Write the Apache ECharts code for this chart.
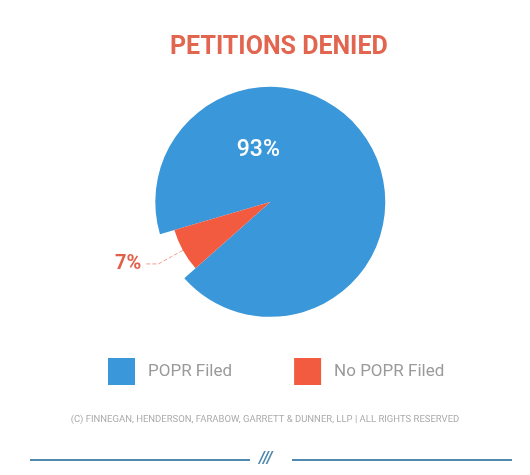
<!DOCTYPE html>
<html>
<head>
<meta charset="utf-8">
<script src="https://cdn.jsdelivr.net/npm/echarts@6/dist/echarts.min.js"></script>
<style>
  html, body { margin: 0; padding: 0; background: #fff; }
  #chart { width: 530px; height: 475px; }
</style>
</head>
<body>
<div id="chart"></div>
<script>
  // chart data
  const categories = ['POPR Filed', 'No POPR Filed'];
  const values = [93, 7];
  const colors = ['#3a97da', '#f35b40'];
  const footerText = '(C) FINNEGAN, HENDERSON, FARABOW, GARRETT & DUNNER, LLP | ALL RIGHTS RESERVED';

  const chart = echarts.init(document.getElementById('chart'));

  const font = 'Roboto, "DejaVu Sans", sans-serif';
  const startAngle = 196.4;
  const center = ['51%', '42.5%'];

  // outer pie: the big blue slice, red part left empty
  const outerData = [
    {
      name: categories[0], value: values[0],
      itemStyle: { color: colors[0] },
      label: {
        show: true, position: 'center',
        // spacer lines push the percentage up and to the left of the centre
        formatter: '{a|{d}%}{s|}\n{b|}',
        rich: {
          a: { color: '#fff', fontSize: 23, fontWeight: 500, fontFamily: font },
          s: { width: 24 },
          b: { height: 104 }
        }
      }
    },
    { name: 'gap', value: values[1], itemStyle: { color: 'transparent' }, label: { show: false } }
  ];

  // inner pie: only the red slice, drawn shorter
  const innerData = [
    { name: 'blank', value: values[0], itemStyle: { color: 'transparent' }, label: { show: false }, labelLine: { show: false } },
    {
      name: categories[1], value: values[1],
      itemStyle: { color: colors[1] },
      label: {
        show: true, position: 'outside',
        formatter: '{d}%',
        color: '#e0604a', fontSize: 20, fontWeight: 'bold', fontFamily: font
      },
      labelLine: {
        show: true, length: 28, length2: 12,
        lineStyle: { color: '#f0a090', type: 'dashed', width: 1 }
      }
    }
  ];

  const option = {
    backgroundColor: '#fff',
    animation: false,
    title: {
      text: 'PETITIONS DENIED',
      left: 165,
      top: 30,
      textStyle: { color: '#e2654f', fontSize: 25, fontWeight: 'bold', fontFamily: font }
    },
    legend: {
      data: categories.map((c, i) => ({ name: c, itemStyle: { color: colors[i] } })),
      left: 103,
      top: 353,
      icon: 'rect',
      itemWidth: 27,
      itemHeight: 27,
      itemGap: 62,
      selectedMode: false,
      textStyle: { color: '#9a9a9a', fontSize: 17, fontFamily: font, padding: [0, 0, 0, 8] }
    },
    series: [
      {
        type: 'pie',
        center: center,
        radius: [0, 115],
        startAngle: startAngle,
        clockwise: true,
        silent: true,
        labelLine: { show: false },
        data: outerData
      },
      {
        type: 'pie',
        center: center,
        radius: [0, 100],
        startAngle: startAngle,
        clockwise: true,
        silent: true,
        data: innerData
      }
    ],
    graphic: [
      {
        type: 'text', left: 'center', top: 415,
        style: { text: footerText, fill: '#ababab', font: '9.5px ' + font }
      },
      {
        type: 'line', shape: { x1: 30, y1: 460, x2: 250, y2: 460 },
        style: { stroke: '#4f89ab', lineWidth: 2 }
      },
      {
        type: 'line', shape: { x1: 292, y1: 460, x2: 512, y2: 460 },
        style: { stroke: '#4f89ab', lineWidth: 2 }
      },
      {
        type: 'text', left: 259, top: 451,
        style: { text: '///', fill: '#4f89ab', font: 'italic bold 16px ' + font }
      }
    ]
  };

  chart.setOption(option);
</script>
</body>
</html>
